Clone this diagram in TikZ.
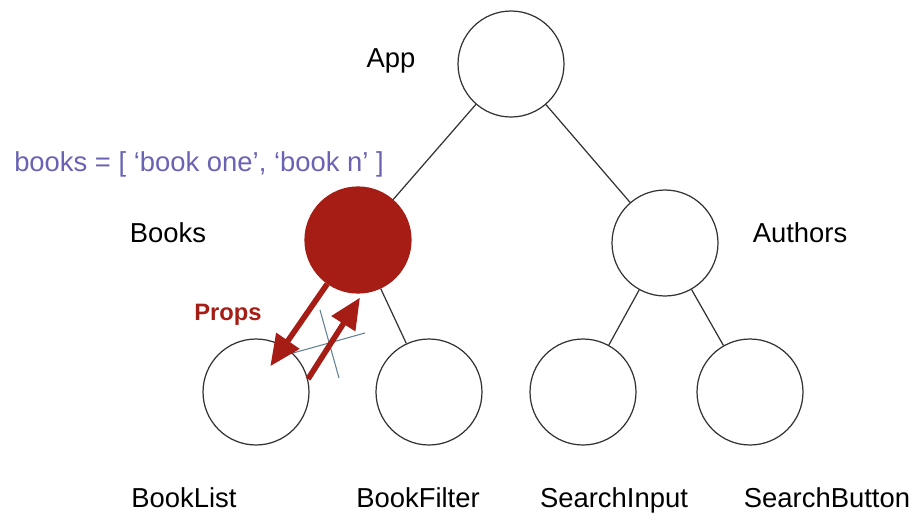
\documentclass[tikz,border=0pt]{standalone}
\usepackage{fontspec}
\setmainfont{Liberation Sans}
\usetikzlibrary{arrows.meta,calc}
\definecolor{propsred}{HTML}{A51D15}
\definecolor{stateblue}{HTML}{6A63B4}
\definecolor{crossgrey}{HTML}{5F8090}
\tikzset{
    comp/.style={circle, draw=black!80, line width=0.7pt, minimum size=2.12cm, inner sep=0pt},
    complabel/.style={font=\fontsize{15.6}{19}\selectfont, inner sep=0pt, anchor=base},
    propflow/.style={draw=propsred, line width=3.2pt, -{Triangle[length=0.62cm,width=0.54cm]}},
    crossline/.style={draw=crossgrey, line width=0.6pt}
}
\begin{document}
\begin{tikzpicture}[x=0.02cm, y=-0.02cm]
                \useasboundingbox (0,0) rectangle (913,514);

                \node[comp] (app) at (511, 64) {};
                \node[comp, fill=propsred, draw=propsred] (books) at (358, 240) {};
                \node[comp] (authors) at (665, 243) {};
                \node[comp] (booklist) at (256, 392) {};
                \node[comp] (bookfilter) at (429, 392) {};
                \node[comp] (searchinput) at (583, 392) {};
                \node[comp] (searchbutton) at (750, 392) {};

                \draw[line width=0.7pt, black!80] (app) -- (books);
                \draw[line width=0.7pt, black!80] (app) -- (authors);
                \draw[line width=0.7pt, black!80] (books) -- (bookfilter);
                \draw[line width=0.7pt, black!80] (authors) -- (searchinput);
                \draw[line width=0.7pt, black!80] (authors) -- (searchbutton);

                \node[complabel] (applabel) at (391, 67) {App};
                \node[complabel] (bookslabel) at (168, 242) {Books};
                \node[complabel] (authorslabel) at (800, 242) {Authors};
                \node[complabel] (booklistlabel) at (184, 507) {BookList};
                \node[complabel] (bookfilterlabel) at (418, 507) {BookFilter};
                \node[complabel] (searchinputlabel) at (614, 507) {SearchInput};
                \node[complabel] (searchbuttonlabel) at (827, 507) {SearchButton};

                \node[complabel, text=stateblue] (bookstate) at (199, 171) {books = [ ‘book one’, ‘book n’ ]};
                \node[font=\fontsize{13.5}{16}\selectfont\bfseries, text=propsred, inner sep=0pt, anchor=base] (propslabel) at (228, 320) {Props};

                \draw[crossline] (293, 353) -- (365, 333);
                \draw[crossline] (320, 310) -- (339, 378);

                \draw[propflow] (books.235) -- ($(booklist)!0.55!(booklist.61)$);
                \draw[propflow, shorten >=0.1cm] (booklist.14) -- (books.275);
            \end{tikzpicture}
\end{document}
